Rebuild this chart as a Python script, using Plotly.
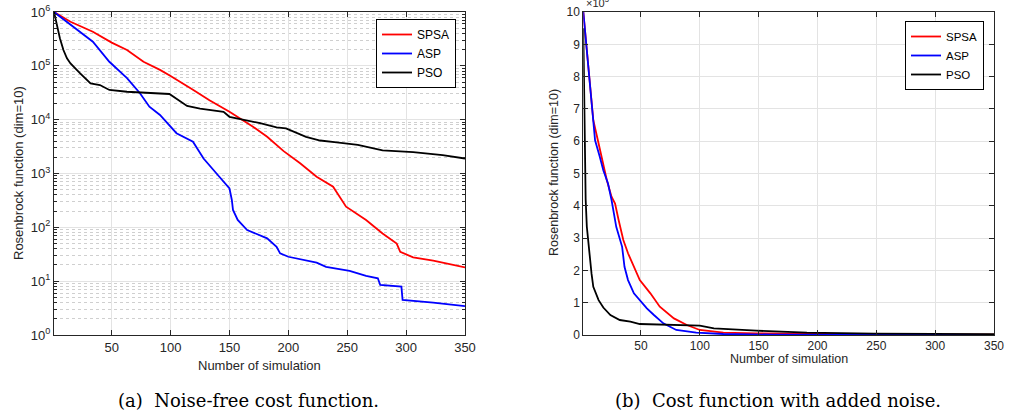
import plotly.graph_objects as go

# ---------------- data: (a) noise-free, log scale ----------------
a_spsa_x = [1, 15, 34, 50, 63, 77, 91, 100, 119, 133, 150, 159, 170, 182, 196, 210, 224, 238, 249, 266, 280, 292, 295, 306, 323, 350]
a_spsa_y = [1e6, 6.6e5, 4.3e5, 2.7e5, 1.97e5, 1.19e5, 8.4e4, 6.5e4, 3.6e4, 2.3e4, 1.4e4, 1.06e4, 7.4e3, 4.8e3, 2.6e3, 1.55e3, 871, 569, 242, 137, 77, 50, 35, 27.7, 24, 18]

a_asp_x = [1, 6, 23, 34, 48, 63, 74, 82, 91, 97, 105, 119, 128, 139, 150, 152, 153, 157, 165, 182, 190, 193, 200, 224, 232, 252, 266, 276, 278, 296, 297, 323, 350]
a_asp_y = [1e6, 8.2e5, 4.3e5, 2.8e5, 1.19e5, 5.9e4, 3.1e4, 1.74e4, 1.22e4, 8.6e3, 5.6e3, 3.9e3, 1.9e3, 1.0e3, 531, 322, 210, 137, 89, 62.5, 43.6, 32.9, 28.4, 22, 18.5, 15.6, 12.5, 11.3, 8.5, 7.9, 4.47, 4.0, 3.45]

a_pso_x = [1, 4.6, 6, 9, 12, 15, 20, 23, 32, 40, 48, 63, 99, 104, 114, 125, 145, 150, 159, 176, 190, 198, 215, 227, 241, 259, 280, 306, 331, 350]
a_pso_y = [1e6, 4.0e5, 3.25e5, 1.97e5, 1.38e5, 1.11e5, 8.4e4, 7.3e4, 4.7e4, 4.4e4, 3.56e4, 3.3e4, 3.0e4, 2.5e4, 1.8e4, 1.6e4, 1.4e4, 1.13e4, 1.03e4, 8.6e3, 7.2e3, 6.9e3, 4.8e3, 4.1e3, 3.8e3, 3.4e3, 2.7e3, 2.5e3, 2.2e3, 1.9e3]

# ---------------- data: (b) with noise, linear scale (x 1e5) ----------------
b_spsa_x = [1, 4, 7, 9.5, 14, 18, 21, 25, 28, 31, 35, 39, 44, 49, 58, 66, 78, 89, 100, 120, 148, 191, 248, 350]
b_spsa_y = [10, 8.81, 7.78, 6.65, 5.93, 5.31, 4.79, 4.28, 4.07, 3.56, 2.94, 2.53, 2.11, 1.70, 1.29, 0.876, 0.515, 0.309, 0.155, 0.072, 0.05, 0.03, 0.02, 0.01]

b_asp_x = [1, 4, 7, 8, 11, 15, 18, 22, 25, 29, 34, 36, 39, 44, 49, 55, 61, 69, 80, 97, 120, 163, 350]
b_asp_y = [10, 8.81, 7.58, 7.22, 6.03, 5.52, 5.10, 4.69, 4.18, 3.35, 2.73, 2.11, 1.70, 1.29, 1.08, 0.825, 0.619, 0.361, 0.155, 0.072, 0.031, 0.01, 0.0]

b_pso_x = [1, 2, 3, 4, 6, 8, 9.5, 14, 18, 24, 32, 41, 49, 78, 100, 112, 148, 191, 248, 350]
b_pso_y = [9.5, 6.0, 4.2, 3.35, 2.5, 1.9, 1.49, 1.08, 0.85, 0.619, 0.464, 0.412, 0.34, 0.309, 0.289, 0.206, 0.134, 0.072, 0.041, 0.03]

series_names = ["SPSA", "ASP", "PSO"]
series_colors = ["#ff0000", "#0000ff", "#000000"]
x_ticks = [50, 100, 150, 200, 250, 300, 350]
log_decades = [0, 1, 2, 3, 4, 5, 6]
lin_ticks = [0, 1, 2, 3, 4, 5, 6, 7, 8, 9, 10]

fig = go.Figure()

for name, col, xs, ys in zip(series_names, series_colors,
                             [a_spsa_x, a_asp_x, a_pso_x], [a_spsa_y, a_asp_y, a_pso_y]):
    fig.add_trace(go.Scatter(x=xs, y=ys, mode="lines", name=name,
                             line=dict(color=col, width=1.8),
                             xaxis="x", yaxis="y", legend="legend"))

for name, col, xs, ys in zip(series_names, series_colors,
                             [b_spsa_x, b_asp_x, b_pso_x], [b_spsa_y, b_asp_y, b_pso_y]):
    fig.add_trace(go.Scatter(x=xs, y=ys, mode="lines", name=name,
                             line=dict(color=col, width=1.8),
                             xaxis="x2", yaxis="y2", legend="legend2"))

W, H = 1011, 420
axcol = "#262626"
gridcol = "#e3e3e3"
sans = "Liberation Sans, Arial, sans-serif"
tickfont_a = dict(family=sans, size=13, color=axcol)
tickfont_b = dict(family=sans, size=12, color=axcol)


def px_x(p):
    return p / W


def px_y(p):
    return 1 - p / H


dom_a = [px_x(54), px_x(465)]
dom_b = [px_x(583.3), px_x(994)]
dom_y = [px_y(335), px_y(12)]


def xaxis_style(font):
    return dict(range=[1, 350], tickvals=x_ticks, ticks="inside", ticklen=5,
                showline=True, linecolor=axcol, linewidth=1, mirror="ticks",
                tickcolor=axcol, tickfont=font, showgrid=True, automargin=False,
                gridcolor=gridcol, gridwidth=1, zeroline=False)


minor_vals = [m * 10 ** d for d in log_decades[:-1] for m in range(2, 10)]

legend_font = dict(family=sans, size=12, color="#000")

fig.update_layout(
    width=W, height=H,
    margin=dict(l=0, r=0, t=0, b=0, pad=0),
    paper_bgcolor="white", plot_bgcolor="white",
    xaxis=dict(domain=dom_a, anchor="y", **xaxis_style(tickfont_a)),
    yaxis=dict(domain=dom_y, anchor="x", type="log", range=[0, 6],
               tickvals=[10 ** d for d in log_decades],
               ticktext=[f"10<sup>{d}</sup>" for d in log_decades],
               ticks="inside", ticklen=5, showline=True, linecolor=axcol,
               linewidth=1, mirror="ticks", tickcolor=axcol, tickfont=tickfont_a,
               showgrid=True, gridcolor=gridcol, gridwidth=1, zeroline=False,
               automargin=False,
               minor=dict(tickvals=minor_vals, ticks="inside", ticklen=3,
                          tickcolor=axcol, showgrid=True, gridcolor="#cfcfcf",
                          griddash="dot", gridwidth=1)),
    xaxis2=dict(domain=dom_b, anchor="y2", **xaxis_style(tickfont_b)),
    yaxis2=dict(domain=dom_y, anchor="x2", range=[0, 10], tickvals=lin_ticks,
                ticks="inside", ticklen=5, showline=True, linecolor=axcol,
                linewidth=1, mirror="ticks", tickcolor=axcol, tickfont=tickfont_b,
                showgrid=True, gridcolor=gridcol, gridwidth=1, zeroline=False,
                automargin=False),
    legend=dict(x=px_x(456), y=px_y(19), xanchor="right", yanchor="top",
                bgcolor="white", bordercolor="#000000", borderwidth=1,
                font=legend_font, itemwidth=30, tracegroupgap=0),
    legend2=dict(x=px_x(984), y=px_y(21), xanchor="right", yanchor="top",
                 bgcolor="white", bordercolor="#000000", borderwidth=1,
                 font=dict(family=sans, size=11.5, color="#000"),
                 itemwidth=30, tracegroupgap=0),
    showlegend=True,
)

labfont_a = dict(family=sans, size=13, color=axcol)
labfont_b = dict(family=sans, size=12.5, color=axcol)
capfont = dict(family="DejaVu Serif, Liberation Serif, serif", size=18, color="#000")

annos = [
    dict(text="Rosenbrock function (dim=10)", x=px_x(18), y=px_y(173), textangle=-90, font=labfont_a),
    dict(text="Rosenbrock function (dim=10)", x=px_x(554), y=px_y(173), textangle=-90, font=labfont_b),
    dict(text="Number of simulation", x=(dom_a[0] + dom_a[1]) / 2, y=px_y(365), font=labfont_a),
    dict(text="Number of simulation", x=(dom_b[0] + dom_b[1]) / 2, y=px_y(359), font=labfont_b),
    dict(text="(a)  Noise-free cost function.", x=px_x(248), y=px_y(400), font=capfont),
    dict(text="(b)  Cost function with added noise.", x=px_x(778), y=px_y(400), font=capfont),
    dict(text="×10<sup>5</sup>", x=px_x(584), y=px_y(11), xanchor="left", yanchor="bottom",
         font=dict(family=sans, size=11, color=axcol)),
]
for a in annos:
    a.setdefault("xanchor", "center")
    a.setdefault("yanchor", "middle")
    fig.add_annotation(xref="paper", yref="paper", showarrow=False, **a)

# remove the default 8px page margin so the figure sits at the window's corner
fig.write_html("out.html", config={"displayModeBar": False},
               post_script="document.body.style.margin='0';")
